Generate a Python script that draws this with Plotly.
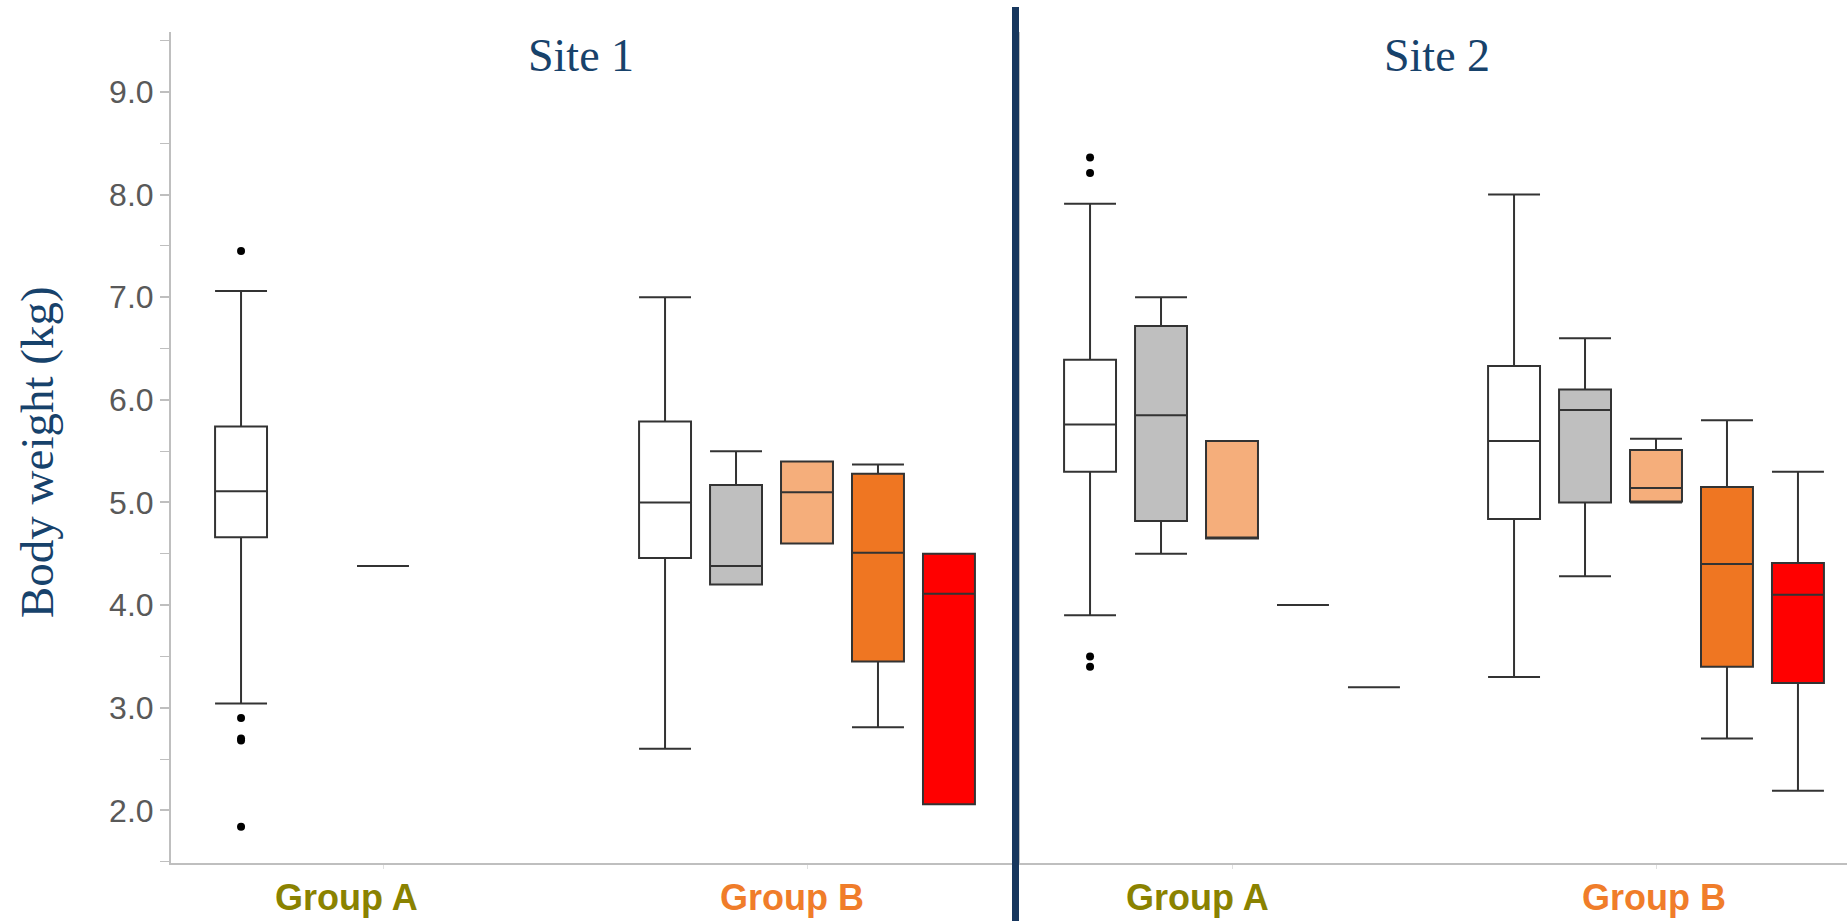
import plotly.graph_objects as go

# ---- data -------------------------------------------------------------
categories = ["Group A", "Group B"]
series = ["Subgroup 1", "Subgroup 2", "Subgroup 3", "Subgroup 4", "Subgroup 5"]
fills = ["#FFFFFF", "#BFBFBF", "#F5AE7B", "#EF7622", "#FF0000"]

# Site 1 box statistics: one [Group A, Group B] pair per subgroup (None = no data)
s1_lower = [[3.04, 2.60], [None, 4.20], [4.38, 4.60], [None, 2.81], [None, 2.06]]
s1_q1 = [[4.66, 4.46], [None, 4.20], [4.38, 4.60], [None, 3.45], [None, 2.06]]
s1_median = [[5.11, 5.00], [None, 4.38], [4.38, 5.10], [None, 4.51], [None, 4.11]]
s1_q3 = [[5.74, 5.79], [None, 5.17], [4.38, 5.40], [None, 5.28], [None, 4.50]]
s1_upper = [[7.06, 7.00], [None, 5.50], [4.38, 5.40], [None, 5.37], [None, 4.50]]
s1_outliers = [[7.45, 2.90, 2.70, 2.68, 1.84], []]

# Site 2 box statistics
s2_lower = [[3.90, 3.30], [4.50, 4.28], [4.65, 5.00], [4.00, 2.70], [3.20, 2.19]]
s2_q1 = [[5.30, 4.84], [4.82, 5.00], [4.65, 5.01], [4.00, 3.40], [3.20, 3.24]]
s2_median = [[5.76, 5.60], [5.85, 5.90], [4.65, 5.14], [4.00, 4.40], [3.20, 4.10]]
s2_q3 = [[6.39, 6.33], [6.72, 6.10], [5.60, 5.51], [4.00, 5.15], [3.20, 4.41]]
s2_upper = [[7.91, 8.00], [7.00, 6.60], [5.60, 5.62], [4.00, 5.80], [3.20, 5.30]]
s2_outliers = [[8.36, 8.21, 3.50, 3.40], []]

y_ticks = [2, 3, 4, 5, 6, 7, 8, 9]
y_tick_labels = ["2.0", "3.0", "4.0", "5.0", "6.0", "7.0", "8.0", "9.0"]
y_minor = [1.5, 2.5, 3.5, 4.5, 5.5, 6.5, 7.5, 8.5, 9.5]

# ---- figure -----------------------------------------------------------
W, H = 1847, 921
ML, MR, MT, MB = 171, 0, 32, 58
PW, PH = W - ML - MR, H - MT - MB


def px_x(p):
    return (p - ML) / PW


def px_y(p):
    return (H - MB - p) / PH


fig = go.Figure()


def add_site(lower, q1, med, q3, upper, outliers, xa, ya):
    for k, name in enumerate(series):
        idx = [i for i in range(len(categories)) if q1[k][i] is not None]
        if k == 0:
            kw = dict(y=[outliers[i] for i in idx], boxpoints="outliers",
                      marker=dict(color="black", size=8, line=dict(width=0)),
                      pointpos=0, jitter=0)
        else:
            kw = dict(boxpoints=False)
        fig.add_trace(go.Box(
            name=name,
            x=[categories[i] for i in idx],
            lowerfence=[lower[k][i] for i in idx],
            q1=[q1[k][i] for i in idx],
            median=[med[k][i] for i in idx],
            q3=[q3[k][i] for i in idx],
            upperfence=[upper[k][i] for i in idx],
            fillcolor=fills[k],
            line=dict(color="#333333", width=2),
            whiskerwidth=1,
            offsetgroup=f"g{k}",
            xaxis=xa, yaxis=ya,
            showlegend=False,
            hoverinfo="skip",
            **kw,
        ))


add_site(s1_lower, s1_q1, s1_median, s1_q3, s1_upper, s1_outliers, "x", "y")
add_site(s2_lower, s2_q1, s2_median, s2_q3, s2_upper, s2_outliers, "x2", "y2")

axis_grey = "#BFBFBF"
xcommon = dict(type="category", categoryorder="array", categoryarray=categories,
               showline=True, linecolor=axis_grey, linewidth=2,
               ticks="outside", ticklen=4, tickcolor="#E0E0E0", tickwidth=1,
               showticklabels=False, showgrid=False, zeroline=False, fixedrange=True)
y_range = [1.487, 9.584]

fig.update_layout(
    width=W, height=H,
    margin=dict(l=ML, r=MR, t=MT, b=MB),
    paper_bgcolor="white", plot_bgcolor="white",
    boxmode="group", boxgap=0.163, boxgroupgap=0.268,
    xaxis=dict(domain=[0, px_x(1019)], range=[-0.5, 1.5], anchor="y", **xcommon),
    xaxis2=dict(domain=[px_x(1020), 1], range=[-0.5, -0.5 + (W - 1020) / 424.0],
                anchor="y2", **xcommon),
    yaxis=dict(range=y_range, anchor="x", showline=True, linecolor=axis_grey, linewidth=2,
               ticks="outside", ticklen=9, tickcolor=axis_grey, tickwidth=2,
               tickvals=y_ticks, ticktext=y_tick_labels,
               tickfont=dict(family="Liberation Sans, Arial, sans-serif", size=32, color="#595959"),
               minor=dict(tickvals=y_minor, ticks="outside", ticklen=9,
                          tickcolor=axis_grey, tickwidth=1),
               showgrid=False, zeroline=False, fixedrange=True),
    yaxis2=dict(range=y_range, anchor="x2", showline=True, linecolor=axis_grey, linewidth=2,
                ticks="", showticklabels=False, showgrid=False, zeroline=False,
                fixedrange=True),
)

title_color = "#17426B"
serif = "Liberation Serif, Times New Roman, serif"
annotations = [
    dict(text="Site 1", x=px_x(581), y=px_y(56)),
    dict(text="Site 2", x=px_x(1437), y=px_y(56)),
]
for a in annotations:
    a.update(xref="paper", yref="paper", showarrow=False, xanchor="center", yanchor="middle",
             font=dict(family=serif, size=46, color=title_color))
annotations.append(dict(text="Body weight (kg)", x=px_x(37), y=px_y(452), xref="paper",
                        yref="paper", showarrow=False, textangle=-90, xanchor="center",
                        yanchor="middle", font=dict(family=serif, size=47, color=title_color)))

label_colors = {"Group A": "#8A8200", "Group B": "#F07D2A"}
label_pos = [("Group A", 346), ("Group B", 792), ("Group A", 1197), ("Group B", 1654)]
for text, xp in label_pos:
    annotations.append(dict(text=f"<b>{text}</b>", x=px_x(xp), y=px_y(897), xref="paper",
                            yref="paper", showarrow=False, xanchor="center", yanchor="middle",
                            font=dict(family="Liberation Sans, Arial, sans-serif", size=36,
                                      color=label_colors[text])))
fig.update_layout(annotations=annotations)

# vertical divider between the two sites
fig.add_shape(type="line", xref="paper", yref="paper",
              x0=px_x(1015.5), x1=px_x(1015.5), y0=px_y(921), y1=px_y(7),
              line=dict(color="#17375E", width=7))

fig.write_html("out.html")
